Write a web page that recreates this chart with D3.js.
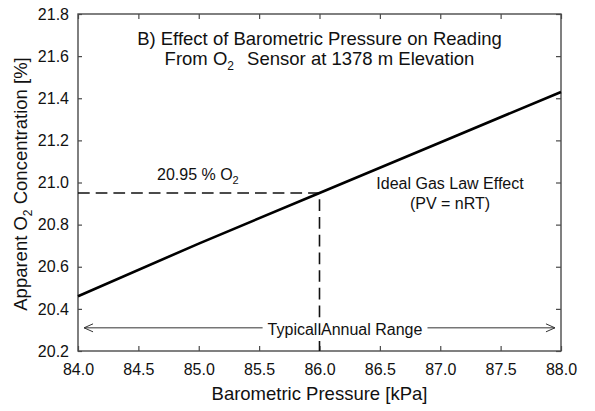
<!DOCTYPE html>
<html>
<head>
<meta charset="utf-8">
<script src="https://cdn.jsdelivr.net/npm/d3@7"></script>
<style>
  html, body { margin: 0; padding: 0; background: #ffffff; }
  svg { display: block; font-family: "Liberation Sans", Arial, sans-serif; }
</style>
</head>
<body>
<svg id="chart" width="595" height="411"></svg>
<script>
// ---- data ----
const pressureKPa = [84.0, 85.0, 86.0, 87.0, 88.0];
const apparentO2 = [20.46, 20.71, 20.95, 21.19, 21.43];
const refPressure = 86.0;
const refO2 = 20.95;
const rangeStart = 84.05;
const rangeEnd = 87.95;
const rangeLevel = 20.31;
const xTickValues = [84.0, 84.5, 85.0, 85.5, 86.0, 86.5, 87.0, 87.5, 88.0];
const yTickValues = [20.2, 20.4, 20.6, 20.8, 21.0, 21.2, 21.4, 21.6, 21.8];
const titleLine1 = "B) Effect of Barometric Pressure on Reading";
const xTitle = "Barometric Pressure [kPa]";
const idealLabel1 = "Ideal Gas Law Effect";
const idealLabel2 = "(PV = nRT)";
const rangeLabel = "Typical Annual Range";

// ---- layout ----
const L = 78, R = 561, T = 14, B = 351;
const svg = d3.select("#chart");
const x = d3.scaleLinear().domain([84, 88]).range([L, R]);
const y = d3.scaleLinear().domain([20.2, 21.8]).range([B, T]);
const axisColor = "#4a4a4a";
const fmt = d3.format(".1f");

// axes
const gB = svg.append("g").attr("transform", `translate(0,${B})`)
  .call(d3.axisBottom(x).tickValues(xTickValues).tickFormat(fmt).tickSize(-5).tickSizeOuter(0).tickPadding(12.6));
const gL = svg.append("g").attr("transform", `translate(${L},0)`)
  .call(d3.axisLeft(y).tickValues(yTickValues).tickFormat(fmt).tickSize(-4).tickSizeOuter(0).tickPadding(9));
const gT = svg.append("g").attr("transform", `translate(0,${T})`)
  .call(d3.axisTop(x).tickValues(xTickValues).tickFormat("").tickSize(-5).tickSizeOuter(0));
const gR = svg.append("g").attr("transform", `translate(${R},0)`)
  .call(d3.axisRight(y).tickValues(yTickValues).tickFormat("").tickSize(-5).tickSizeOuter(0));
[gB, gL, gT, gR].forEach(g => {
  g.select(".domain").remove();
  g.selectAll(".tick line").attr("stroke", axisColor).attr("stroke-width", 1.2);
  g.selectAll(".tick text").attr("fill", "#111").style("font-size", "16px")
    .style("font-family", '"Liberation Sans", Arial, sans-serif');
});

// frame
svg.append("rect").attr("x", L).attr("y", T).attr("width", R - L).attr("height", B - T)
  .attr("fill", "none").attr("stroke", axisColor).attr("stroke-width", 1.4);

// dashed reference lines
svg.append("path")
  .attr("d", d3.line()([[x(84), y(refO2)], [x(refPressure), y(refO2)], [x(refPressure), y(20.2)]]))
  .attr("fill", "none").attr("stroke", "#111").attr("stroke-width", 1.6)
  .attr("stroke-dasharray", "11.7,6");

// main line
svg.append("path").datum(pressureKPa.map((p, i) => [p, apparentO2[i]]))
  .attr("d", d3.line().x(d => x(d[0])).y(d => y(d[1])))
  .attr("fill", "none").attr("stroke", "#000").attr("stroke-width", 2.6);

// title
const title = svg.append("g").attr("fill", "#111").style("font-size", "18.5px");
title.append("text").attr("x", (L + R) / 2).attr("y", 45).attr("text-anchor", "middle").text(titleLine1);
const t2 = title.append("text").attr("x", (L + R) / 2).attr("y", 65).attr("text-anchor", "middle");
t2.append("tspan").text("From O");
t2.append("tspan").attr("dy", 5).style("font-size", "12px").text("2");
t2.append("tspan").attr("dy", -5).attr("dx", 8).text(" Sensor at 1378 m Elevation");

// axis titles
svg.append("text").attr("x", (L + R) / 2).attr("y", 400).attr("text-anchor", "middle")
  .attr("fill", "#111").style("font-size", "18.5px").text(xTitle);
const yt = svg.append("text").attr("transform", `translate(27,${(T + B) / 2 + 1.5}) rotate(-90)`)
  .attr("text-anchor", "middle").attr("fill", "#111").style("font-size", "18.5px");
yt.append("tspan").text("Apparent O");
yt.append("tspan").attr("dy", 5).style("font-size", "12px").text("2");
yt.append("tspan").attr("dy", -5).text(" Concentration [%]");

// 20.95 % O2 label
const lab = svg.append("text").attr("x", 157).attr("y", 180).attr("fill", "#111").style("font-size", "16px");
lab.append("tspan").text("20.95 % O");
lab.append("tspan").attr("dy", 4).style("font-size", "11px").text("2");

// ideal gas label
svg.append("text").attr("x", 450).attr("y", 189).attr("text-anchor", "middle")
  .attr("fill", "#111").style("font-size", "16px").text(idealLabel1);
svg.append("text").attr("x", 450).attr("y", 209).attr("text-anchor", "middle")
  .attr("fill", "#111").style("font-size", "16px").text(idealLabel2);

// typical annual range arrow
const ry = y(rangeLevel);
const rangeText = svg.append("text").attr("x", 345).attr("y", ry + 7).attr("text-anchor", "middle")
  .attr("fill", "#111").style("font-size", "16px").text(rangeLabel);
const bb = rangeText.node().getBBox();
const arrowStroke = "#333";
const ax1 = x(rangeStart), ax2 = x(rangeEnd);
svg.append("line").attr("x1", ax1).attr("x2", bb.x - 5).attr("y1", ry).attr("y2", ry)
  .attr("stroke", arrowStroke).attr("stroke-width", 1);
svg.append("line").attr("x1", bb.x + bb.width + 5).attr("x2", ax2).attr("y1", ry).attr("y2", ry)
  .attr("stroke", arrowStroke).attr("stroke-width", 1);
svg.append("path").attr("d", `M${ax1 + 9},${ry - 4}L${ax1},${ry}L${ax1 + 9},${ry + 4}`)
  .attr("fill", "none").attr("stroke", arrowStroke).attr("stroke-width", 1);
svg.append("path").attr("d", `M${ax2 - 9},${ry - 4}L${ax2},${ry}L${ax2 - 9},${ry + 4}`)
  .attr("fill", "none").attr("stroke", arrowStroke).attr("stroke-width", 1);
</script>
</body>
</html>
